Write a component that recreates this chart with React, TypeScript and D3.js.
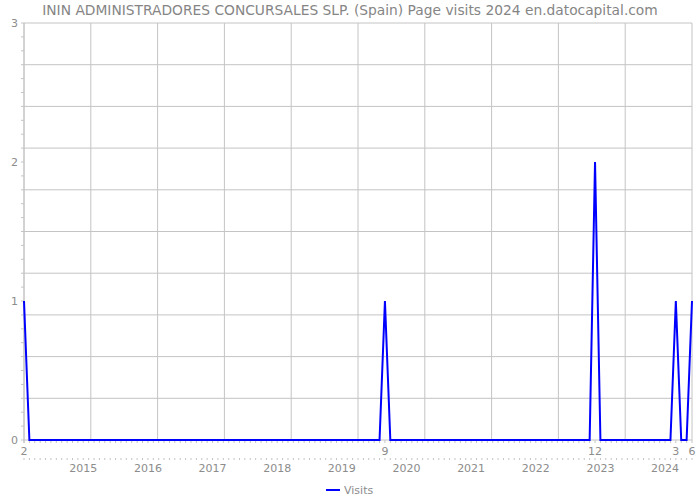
import React from "react";
import * as d3 from "d3";

const title = "ININ ADMINISTRADORES CONCURSALES SLP. (Spain) Page visits 2024 en.datocapital.com";
const seriesName = "Visits";
const startYear = 2014;
const startMonth = 2;
const visits2014 = [1, 0, 0, 0, 0, 0, 0, 0, 0, 0, 0];
const visits2015 = [0, 0, 0, 0, 0, 0, 0, 0, 0, 0, 0, 0];
const visits2016 = [0, 0, 0, 0, 0, 0, 0, 0, 0, 0, 0, 0];
const visits2017 = [0, 0, 0, 0, 0, 0, 0, 0, 0, 0, 0, 0];
const visits2018 = [0, 0, 0, 0, 0, 0, 0, 0, 0, 0, 0, 0];
const visits2019 = [0, 0, 0, 0, 0, 0, 0, 0, 1, 0, 0, 0];
const visits2020 = [0, 0, 0, 0, 0, 0, 0, 0, 0, 0, 0, 0];
const visits2021 = [0, 0, 0, 0, 0, 0, 0, 0, 0, 0, 0, 0];
const visits2022 = [0, 0, 0, 0, 0, 0, 0, 0, 0, 0, 0, 2];
const visits2023 = [0, 0, 0, 0, 0, 0, 0, 0, 0, 0, 0, 0];
const visits2024 = [0, 0, 1, 0, 0, 1];
const yearLabels = [2015, 2016, 2017, 2018, 2019, 2020, 2021, 2022, 2023, 2024];
const monthLabelDates = ["2014-2", "2019-9", "2022-12", "2024-3", "2024-6"];
const yTickLabels = [0, 1, 2, 3];

const values = [
  ...visits2014, ...visits2015, ...visits2016, ...visits2017, ...visits2018,
  ...visits2019, ...visits2020, ...visits2021, ...visits2022, ...visits2023, ...visits2024,
];
const data = values.map((v, i) => {
  const m0 = startMonth - 1 + i;
  return { i, year: startYear + Math.floor(m0 / 12), month: (m0 % 12) + 1, v };
});
const idxOf = (y: number, m: number) => (y - startYear) * 12 + (m - startMonth);

export default function App() {
  const W = 700, H = 500;
  const left = 24, right = 692, top = 23, bottom = 440;
  const x = d3.scaleLinear().domain([0, values.length - 1]).range([left, right]);
  const y = d3.scaleLinear().domain([0, 3]).range([bottom, top]);
  const line = d3.line<any>().x((d) => x(d.i)).y((d) => y(d.v));
  const vGrid = d3.range(0, 11).map((k) => left + ((right - left) * k) / 10);
  const hGrid = d3.range(0, 11).map((k) => (3 * k) / 10);
  const yMinor = d3.range(0, 31).map((k) => k / 10);
  const grid = "#c4c4c4";
  const txt = "#8c8c8c";
  const font = "DejaVu Sans, sans-serif";
  return (
    <svg width={W} height={H} style={{ position: "absolute", left: 0, top: 0, background: "#fff" }}>
      <text x={350} y={15} textAnchor="middle" fontFamily={font} fontSize={13.8} fill="#858585">{title}</text>
      {vGrid.map((gx, k) => (
        <line key={"v" + k} x1={gx} x2={gx} y1={top} y2={bottom} stroke={grid} strokeWidth={1} />
      ))}
      {hGrid.map((g, k) => (
        <line key={"h" + k} x1={left} x2={right} y1={y(g)} y2={y(g)} stroke={grid} strokeWidth={1} />
      ))}
      {yMinor.map((g, k) => (
        <line key={"ym" + k} x1={left - 3} x2={left} y1={y(g)} y2={y(g)} stroke={grid} strokeWidth={1} />
      ))}
      <line x1={left} x2={left} y1={top} y2={bottom + 3} stroke={grid} />
      {yTickLabels.map((t) => (
        <text key={"yl" + t} x={left - 6} y={y(t) + 4} textAnchor="end" fontFamily={font} fontSize={11} fill={txt}>{t}</text>
      ))}
      {data.map((d) => (
        <line key={"xt" + d.i} x1={x(d.i)} x2={x(d.i)} y1={bottom} y2={bottom + 3} stroke={grid} />
      ))}
      {data.map((d) => (
        <line key={"xt2" + d.i} x1={x(d.i)} x2={x(d.i)} y1={458} y2={460} stroke={grid} />
      ))}
      {monthLabelDates.map((s) => {
        const [yy, mm] = s.split("-").map(Number);
        return (
          <text key={"ml" + s} x={x(idxOf(yy, mm))} y={455} textAnchor="middle" fontFamily={font} fontSize={11} fill={txt}>{mm}</text>
        );
      })}
      {yearLabels.map((yr) => (
        <text key={"yr" + yr} x={x(idxOf(yr, 1))} y={472} textAnchor="middle" fontFamily={font} fontSize={11} fill={txt}>{yr}</text>
      ))}
      <path d={line(data) || ""} fill="none" stroke="#0000ff" strokeWidth={2} strokeLinejoin="miter" />
      <line x1={326} x2={340} y1={490} y2={490} stroke="#0000ff" strokeWidth={2} />
      <text x={344} y={494} fontFamily={font} fontSize={11} fill={txt}>{seriesName}</text>
    </svg>
  );
}
